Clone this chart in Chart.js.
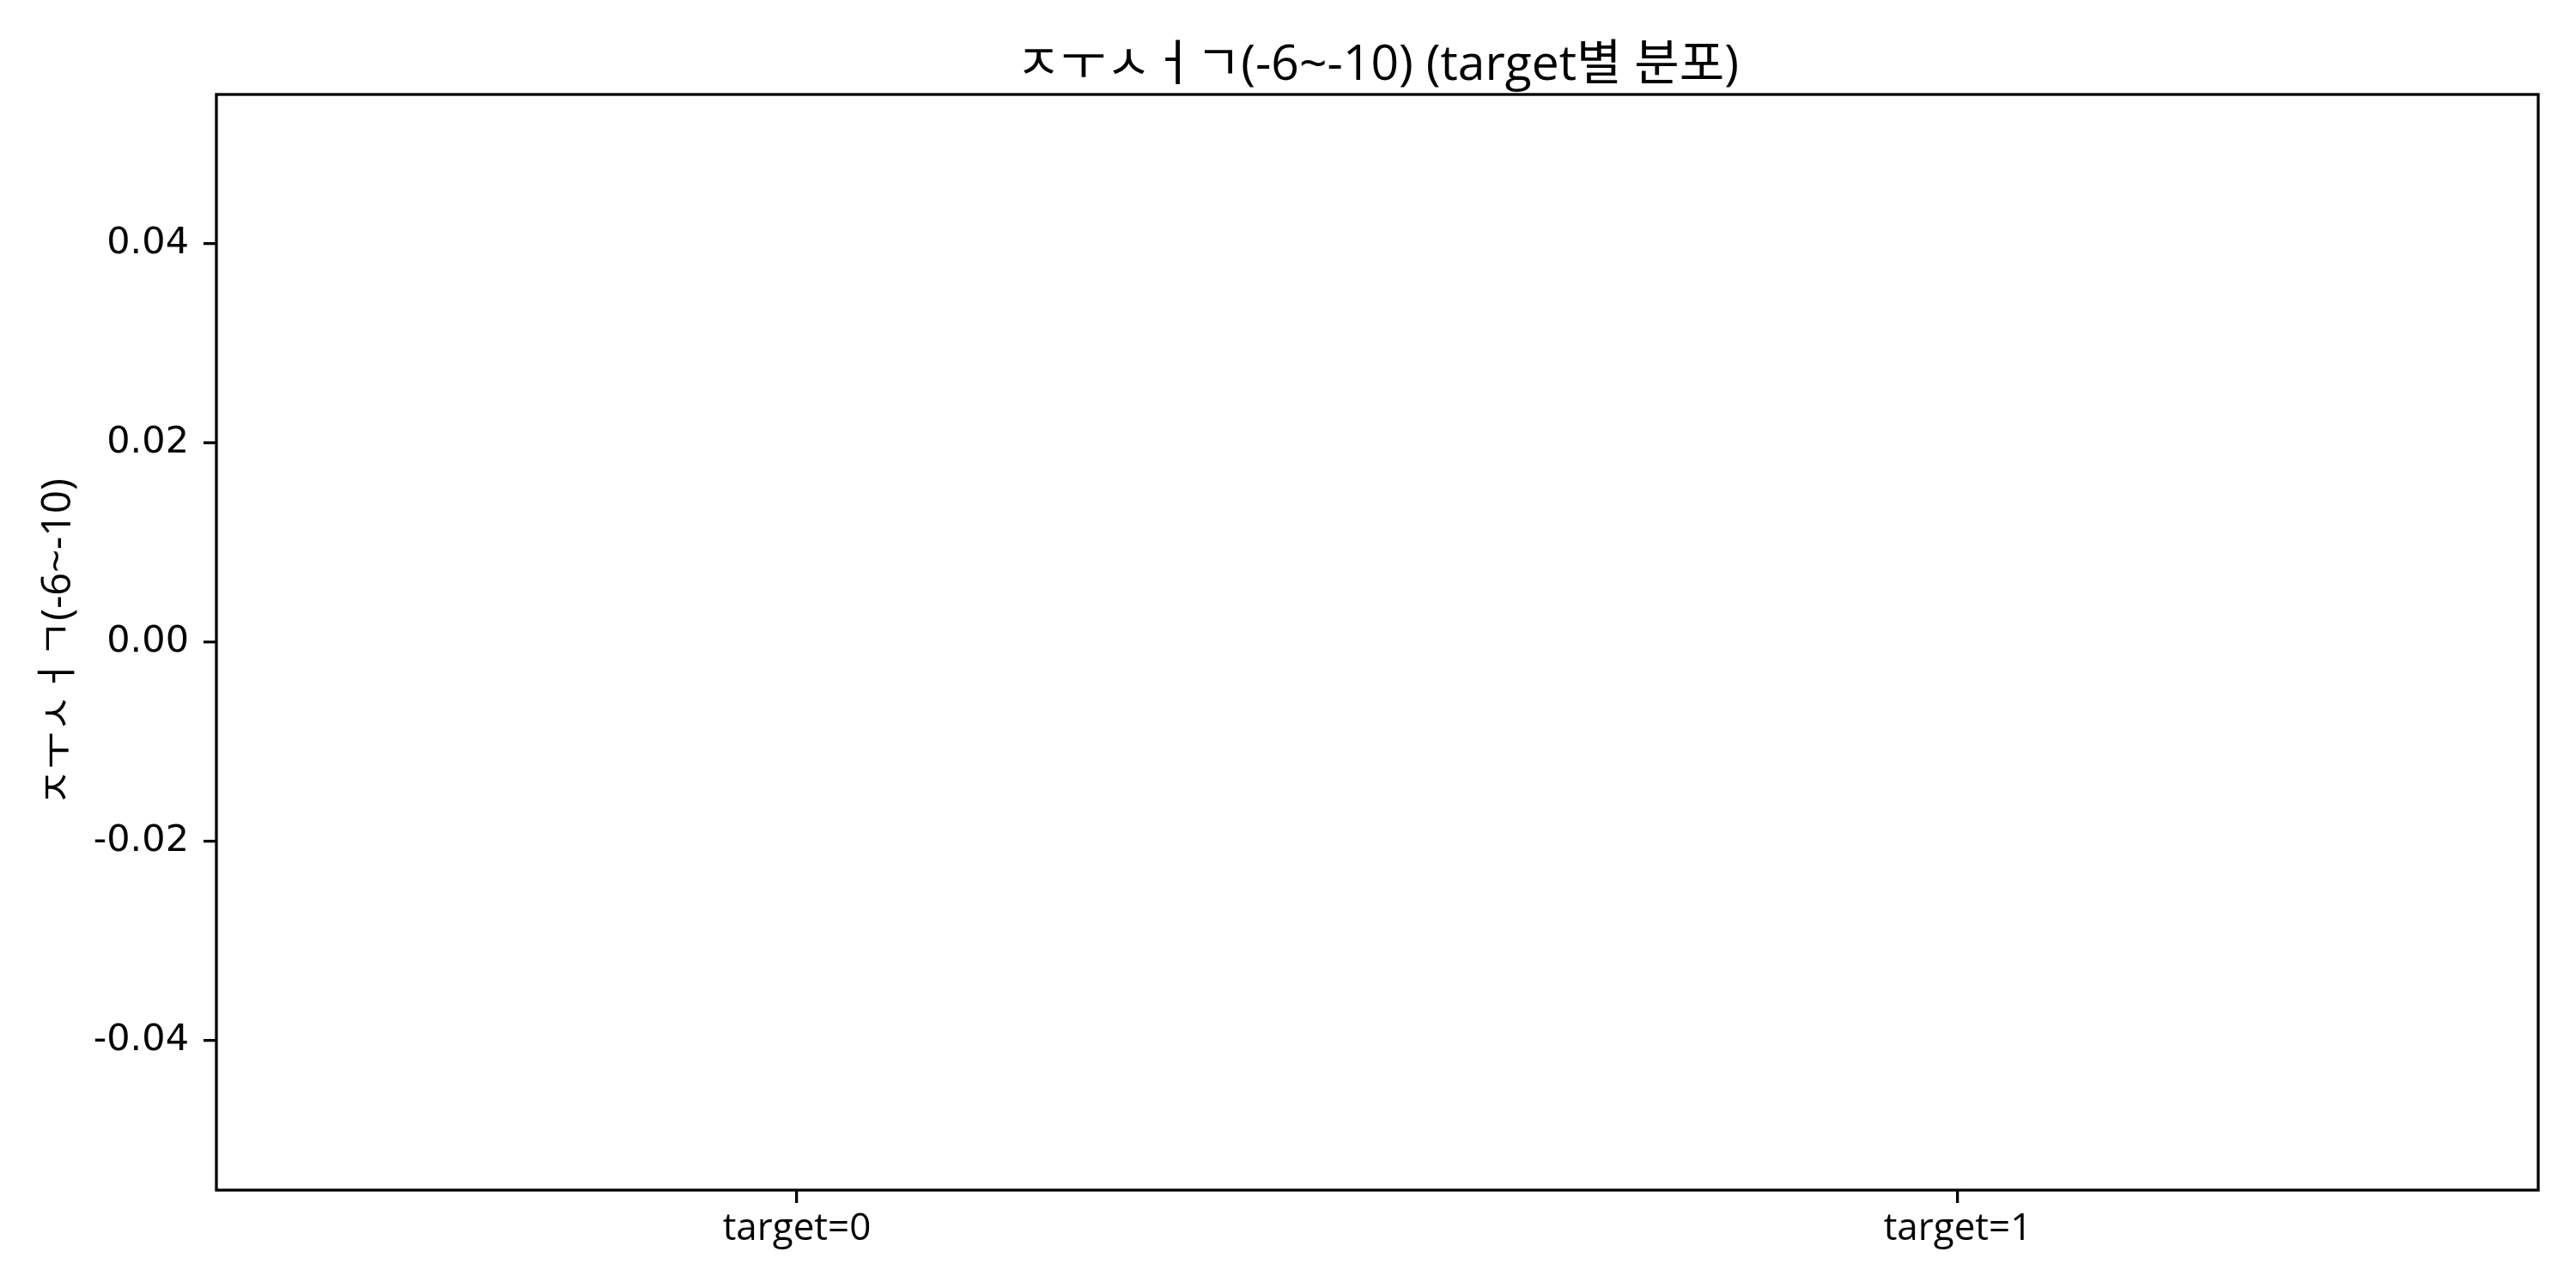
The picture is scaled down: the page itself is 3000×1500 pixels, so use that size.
<!DOCTYPE html>
<html>
<head>
<meta charset="utf-8">
<script src="https://cdn.jsdelivr.net/npm/chart.js@4"></script>
<style>
html,body{margin:0;padding:0;background:#fff;}
#wrap{width:3000px;height:1500px;}
</style>
</head>
<body>
<div id="wrap"><canvas id="c" width="3000" height="1500"></canvas></div>
<script>
const titleText = 'ㅈㅜㅅㅓㄱ(-6~-10) (target별 분포)';
const yLabel = 'ㅈㅜㅅㅓㄱ(-6~-10)';
const categories = ['target=0', 'target=1'];
const target0Values = [];   // no finite values in this group
const target1Values = [];   // no finite values in this group
const yTicks = [-0.04, -0.02, 0.00, 0.02, 0.04];
const yMin = -0.055, yMax = 0.055;

const FONT = '"Open Sans", "Noto Sans CJK KR", sans-serif';
const TICKFONT = '"DejaVu Sans", sans-serif';
const LW = 3.3;

const frame = {
  id: 'frame',
  afterDraw(chart) {
    const {ctx, chartArea: a} = chart;
    ctx.save();
    ctx.strokeStyle = '#000';
    ctx.lineWidth = LW;
    ctx.strokeRect(a.left, a.top, a.right - a.left, a.bottom - a.top);
    // title centered over the axes area
    ctx.fillStyle = '#000';
    ctx.font = '57px ' + FONT;
    ctx.textAlign = 'center';
    ctx.textBaseline = 'alphabetic';
    ctx.fillText(titleText, (a.left + a.right) / 2, 93);
    ctx.restore();
  }
};
const bg = {
  id: 'bg',
  beforeDraw(chart) {
    const {ctx} = chart;
    ctx.save(); ctx.fillStyle = '#fff'; ctx.fillRect(0, 0, chart.width, chart.height); ctx.restore();
  }
};

new Chart(document.getElementById('c'), {
  type: 'bar',
  data: {
    labels: categories,
    datasets: [{
      data: [target0Values.length ? target0Values[0] : null, target1Values.length ? target1Values[0] : null],
      backgroundColor: '#1f77b4'
    }]
  },
  options: {
    responsive: false,
    animation: false,
    devicePixelRatio: 1,
    layout: {padding: {left: 0, right: 44, top: 110, bottom: 0}},
    plugins: {
      legend: {display: false},
      tooltip: {enabled: false},
      title: {display: false}
    },
    scales: {
      x: {
        offset: true,
        border: {display: false},
        grid: {display: true, drawOnChartArea: false, drawTicks: true, tickLength: 15, color: '#000', lineWidth: LW, offset: false},
        ticks: {color: '#000', font: {family: FONT, size: 44}, padding: 4, maxRotation: 0},
        afterFit(s) { s.height = 114; }
      },
      y: {
        min: yMin, max: yMax,
        border: {display: false},
        grid: {display: true, drawOnChartArea: false, drawTicks: true, tickLength: 15, color: '#000', lineWidth: LW},
        afterBuildTicks(s) { s.ticks = yTicks.map(v => ({value: v})); },
        ticks: {color: '#000', font: {family: TICKFONT, size: 43}, padding: 17,
          callback: v => Number(v).toFixed(2)},
        title: {display: true, text: yLabel, color: '#000', font: {family: FONT, size: 47, lineHeight: 1.2}, padding: {top: 40, bottom: 0}},
        afterFit(s) { s.width = 252; }
      }
    }
  },
  plugins: [bg, frame]
});
</script>
</body>
</html>
